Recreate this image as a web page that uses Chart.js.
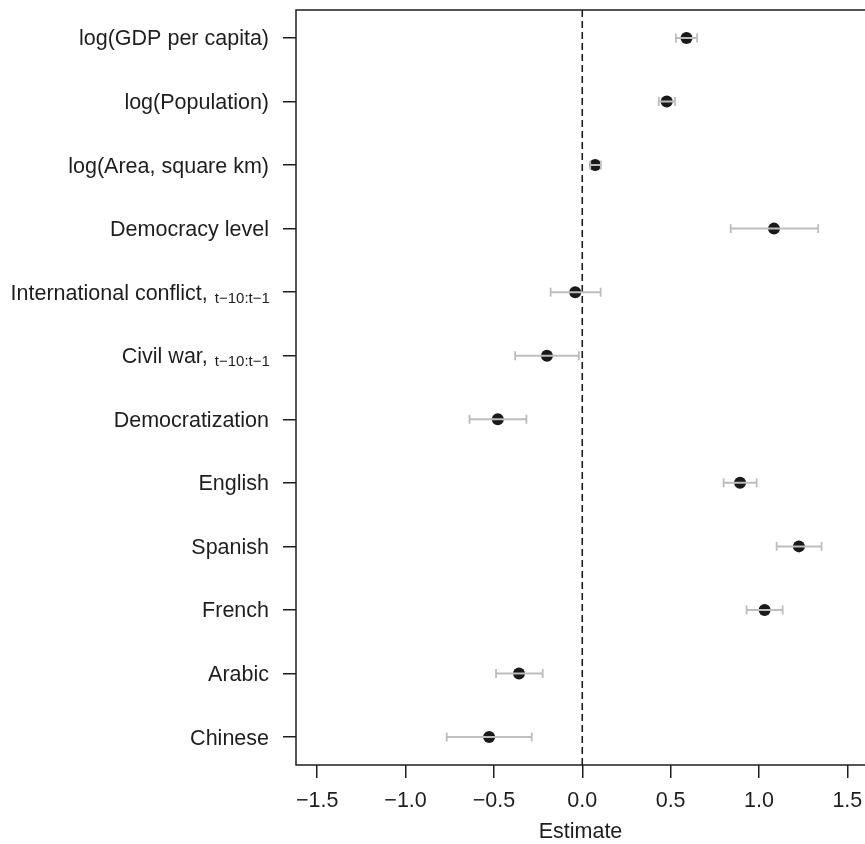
<!DOCTYPE html>
<html>
<head>
    <title>Coefficient plot</title>
    <script src="https://cdn.jsdelivr.net/npm/chart.js"></script>
    <style>
        html, body { margin: 0; padding: 0; background: #fff; overflow: hidden; }
    </style>
</head>
<body>
    <canvas id="coefChart" width="865" height="844"></canvas>
    <script>
        // variables, top to bottom
        const variables = ['log(GDP per capita)', 'log(Population)', 'log(Area, square km)', 'Democracy level',
            'International conflict,', 'Civil war,', 'Democratization', 'English', 'Spanish', 'French', 'Arabic', 'Chinese'];
        const subscripts = ['', '', '', '', 't\u221210:t\u22121', 't\u221210:t\u22121', '', '', '', '', '', ''];
        const estimates = [0.59, 0.478, 0.073, 1.085, -0.04, -0.2, -0.478, 0.893, 1.226, 1.032, -0.358, -0.527];
        const lower = [0.53, 0.433, 0.045, 0.84, -0.179, -0.38, -0.638, 0.80, 1.10, 0.93, -0.488, -0.767];
        const upper = [0.65, 0.525, 0.105, 1.335, 0.104, -0.019, -0.316, 0.987, 1.354, 1.134, -0.224, -0.286];
        const xTicks = [-1.5, -1.0, -0.5, 0.0, 0.5, 1.0, 1.5];
        const xMin = -1.62, xMax = 1.6;
        const yMin = -0.44, yMax = 11.44;

        const FONT = '"Liberation Sans", Arial, Helvetica, sans-serif';
        const TEXT = '#1e1e1e';
        const SIZE = 21.5;

        const errData = [];
        estimates.forEach((v, i) => {
            errData.push({ x: lower[i], y: i }, { x: upper[i], y: i }, { x: null, y: null });
        });
        const pointData = estimates.map((v, i) => ({ x: v, y: i }));

        // box (left / top / bottom) and y labels with subscripts
        const framePlugin = {
            id: 'frame',
            afterDraw(chart) {
                const ctx = chart.ctx;
                const a = chart.chartArea;
                ctx.save();
                ctx.strokeStyle = '#1e1e1e';
                ctx.lineWidth = 1.5;
                ctx.beginPath();
                ctx.moveTo(chart.width + 5, a.top);
                ctx.lineTo(a.left, a.top);
                ctx.lineTo(a.left, a.bottom);
                ctx.lineTo(chart.width + 5, a.bottom);
                ctx.stroke();

                const ys = chart.scales.y;
                const right = 269;
                ctx.fillStyle = TEXT;
                ctx.textBaseline = 'alphabetic';
                ctx.textAlign = 'left';
                variables.forEach((name, i) => {
                    const y = ys.getPixelForValue(i) + 7.5;
                    ctx.font = SIZE + 'px ' + FONT;
                    const w1 = ctx.measureText(name).width;
                    let w2 = 0;
                    const sub = subscripts[i];
                    if (sub) {
                        ctx.font = '15px ' + FONT;
                        w2 = ctx.measureText(' ' + sub).width + 2;
                    }
                    const x0 = right - w1 - w2;
                    ctx.font = SIZE + 'px ' + FONT;
                    ctx.fillText(name, x0, y);
                    if (sub) {
                        ctx.font = '15px ' + FONT;
                        ctx.fillText(sub, x0 + w1 + 7, y + 3);
                    }
                });
                ctx.restore();
            }
        };

        new Chart(document.getElementById('coefChart').getContext('2d'), {
            type: 'scatter',
            data: {
                datasets: [
                    {
                        data: [{ x: 0, y: yMin }, { x: 0, y: yMax }],
                        showLine: true,
                        borderColor: '#1e1e1e',
                        borderWidth: 1.6,
                        borderDash: [7, 4],
                        pointRadius: 0,
                        order: 2
                    },
                    {
                        data: pointData,
                        backgroundColor: '#1a1a1a',
                        borderColor: '#1a1a1a',
                        borderWidth: 0,
                        pointRadius: 6,
                        order: 1
                    },
                    {
                        data: errData,
                        showLine: true,
                        spanGaps: false,
                        borderColor: '#bdbdbd',
                        borderWidth: 2,
                        pointStyle: 'line',
                        rotation: 90,
                        pointRadius: 4.5,
                        pointBorderWidth: 1.8,
                        pointBorderColor: '#bdbdbd',
                        order: 0
                    }
                ]
            },
            options: {
                responsive: false,
                animation: false,
                layout: { autoPadding: false, padding: { top: 10, right: 0, left: 0, bottom: 0 } },
                plugins: {
                    legend: { display: false },
                    tooltip: { enabled: false }
                },
                scales: {
                    x: {
                        type: 'linear',
                        min: xMin,
                        max: xMax,
                        afterBuildTicks: s => { s.ticks = xTicks.map(v => ({ value: v })); },
                        afterFit: s => { s.height = 79; s.paddingLeft = 0; s.paddingRight = 0; },
                        grid: { drawOnChartArea: false, drawTicks: true, tickLength: 13, color: '#1e1e1e', lineWidth: 1.5 },
                        border: { display: false },
                        ticks: {
                            color: TEXT,
                            padding: 10,
                            font: { family: FONT, size: SIZE },
                            maxRotation: 0,
                            callback: v => (v < 0 ? '\u2212' : '') + Math.abs(v).toFixed(1)
                        },
                        title: {
                            display: true,
                            text: 'Estimate',
                            color: TEXT,
                            font: { family: FONT, size: SIZE },
                            padding: { top: 0, bottom: -1 }
                        }
                    },
                    y: {
                        type: 'linear',
                        reverse: true,
                        min: yMin,
                        max: yMax,
                        afterBuildTicks: s => { s.ticks = variables.map((n, i) => ({ value: i })); },
                        afterFit: s => { s.width = 296; s.paddingTop = 0; s.paddingBottom = 0; },
                        grid: { drawOnChartArea: false, drawTicks: true, tickLength: 13, color: '#1e1e1e', lineWidth: 1.5 },
                        border: { display: false },
                        ticks: { display: false }
                    }
                }
            },
            plugins: [framePlugin]
        });
    </script>
</body>
</html>
